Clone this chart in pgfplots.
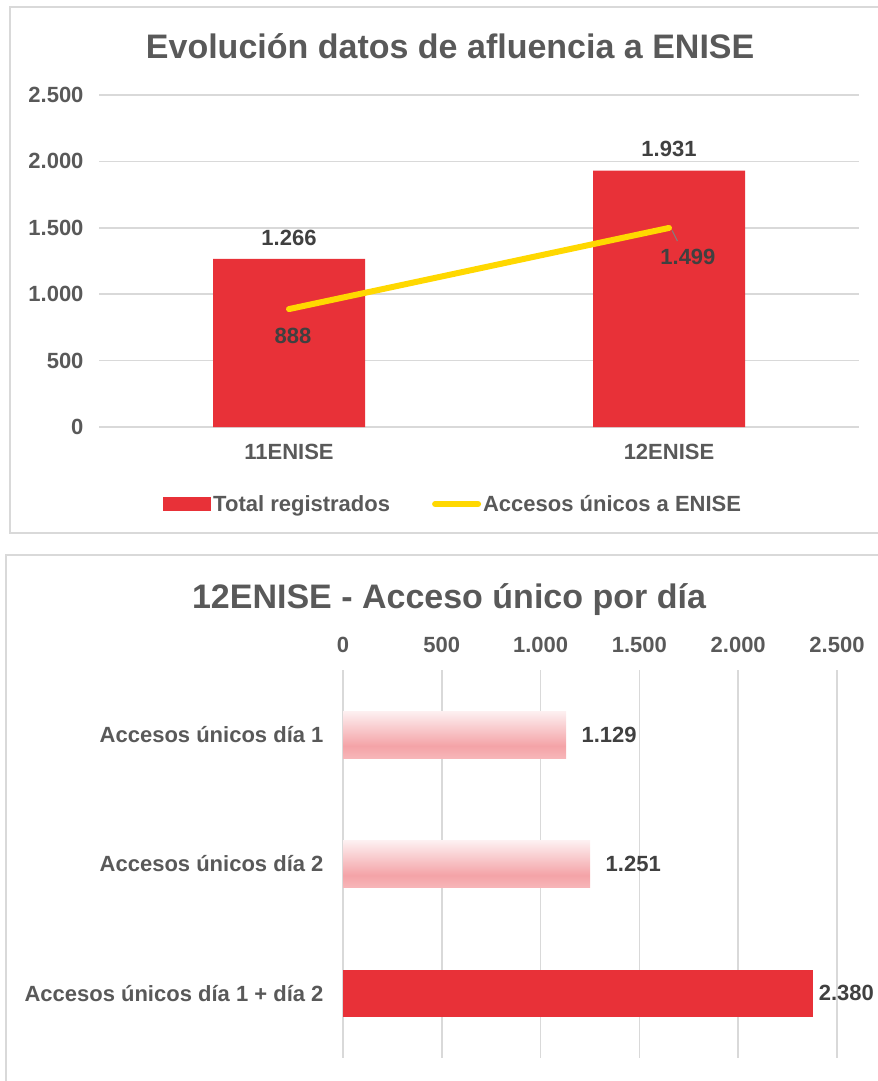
\documentclass[border=0pt]{standalone}
\usepackage{pgfplots}
\pgfplotsset{compat=1.18}
\usepackage{fontspec}
\setmainfont{Liberation Sans}
\definecolor{barred}{HTML}{E83138}
\definecolor{lineyellow}{HTML}{FFD800}
\definecolor{gridgray}{HTML}{D9D9D9}
\definecolor{labelgray}{HTML}{595959}
\definecolor{datagray}{HTML}{404040}
\definecolor{pinktop}{HTML}{FDF0F1}
\definecolor{pinkdark}{HTML}{F4A3A7}
\definecolor{pinkbottom}{HTML}{F7B6B9}
\pgfdeclareverticalshading{pinkbar}{100bp}{color(0bp)=(pinkbottom); color(25bp)=(pinkbottom); color(38bp)=(pinkdark); color(75bp)=(pinktop); color(100bp)=(pinktop)}
\newcommand\tickfont{\fontsize{22bp}{26bp}\selectfont\bfseries}
\newcommand\titlefont{\fontsize{34bp}{40bp}\selectfont\bfseries}
\begin{document}
\begin{tikzpicture}
\draw[gridgray, line width=2bp] (900bp,-7bp) -- (10bp,-7bp) -- (10bp,-533bp) -- (900bp,-533bp);
\draw[gridgray, line width=2bp] (900bp,-555bp) -- (6bp,-555bp) -- (6bp,-1100bp);
\begin{axis}[
  at={(99bp,-427bp)}, anchor=south west,
  scale only axis, width=760bp, height=332bp,
  xmin=-0.5, xmax=1.5, ymin=0, ymax=2500,
  xtick={0,1}, xticklabels={11ENISE,12ENISE},
  ytick={0,500,1000,1500,2000,2500},
  axis line style={draw=none},
  major tick length=0pt,
  ymajorgrids, grid style={gridgray, line width=1.5bp},
  tick label style={font=\tickfont, text=labelgray},
  yticklabel style={xshift=-12bp},
  xticklabel style={yshift=-14bp},
  /pgf/number format/1000 sep={.},
  /pgf/number format/assume math mode=true,
  title={Evolución datos de afluencia a ENISE},
  title style={font=\titlefont, text=labelgray, at={(0.462,1.093)}, anchor=base},
  legend style={at={(0.466,-0.232)}, anchor=center, draw=none, fill=none, legend columns=2, font=\tickfont, text=labelgray, /tikz/every even column/.append style={column sep=40bp}},
  legend cell align=left,
  clip=false,
]
\addplot[ybar, bar width=0.4, fill=barred, draw=none, bar shift=0pt,
  nodes near coords, every node near coord/.append style={font=\tickfont, text=datagray, yshift=10bp},
  legend image code/.code={\fill[barred] (0bp,-7bp) rectangle (48bp,7bp);}]
  coordinates {(0,1266) (1,1931)};
\addlegendentry{Total registrados}
\addplot[lineyellow, line width=6bp, line cap=round, mark=none,
  nodes near coords, visualization depends on={\thisrow{dx} \as \dx},
  visualization depends on={\thisrow{dy} \as \dy},
  every node near coord/.append style={font=\tickfont, text=datagray, anchor=center, xshift=\dx, yshift=\dy},
  legend image code/.code={\draw[lineyellow, line width=6bp, line cap=round] (3bp,0bp) -- (46bp,0bp);}]
  table {
x y dx dy
0 888 4 -27
1 1499 19 -29
};
\addlegendentry{Accesos únicos a ENISE}
\draw[gray, line width=1bp] (axis cs:1.008,1480) -- (axis cs:1.022,1400);
\end{axis}
\begin{axis}[
  at={(343bp,-1058bp)}, anchor=south west,
  scale only axis, width=494bp, height=388bp,
  xmin=0, xmax=2500, ymin=-0.5, ymax=2.5, y dir=reverse,
  xtick={0,500,1000,1500,2000,2500},
  ytick={0,1,2},
  yticklabels={Accesos únicos día 1, Accesos únicos día 2, Accesos únicos día 1 + día 2},
  xticklabel pos=upper,
  axis line style={draw=none},
  major tick length=0pt,
  xmajorgrids, grid style={gridgray, line width=1.5bp},
  tick label style={font=\tickfont, text=labelgray},
  yticklabel style={xshift=-16bp},
  xticklabel style={yshift=14bp},
  /pgf/number format/1000 sep={.},
  /pgf/number format/assume math mode=true,
  title={12ENISE - Acceso único por día},
  title style={font=\titlefont, text=labelgray, at={(0.2146,1.144)}, anchor=base},
  clip=false,
]
\addplot[xbar, bar width=0.363, bar shift=0pt, draw=none, shade, shading=pinkbar,
  nodes near coords, every node near coord/.append style={font=\tickfont, text=datagray, anchor=west, xshift=12bp}]
  coordinates {(1129,0)};
\addplot[xbar, bar width=0.363, bar shift=0pt, draw=none, shade, shading=pinkbar,
  nodes near coords, every node near coord/.append style={font=\tickfont, text=datagray, anchor=west, xshift=12bp}]
  coordinates {(1251,1)};
\addplot[xbar, bar width=0.363, bar shift=0pt, draw=none, fill=barred,
  nodes near coords, every node near coord/.append style={font=\tickfont, text=datagray, anchor=west, xshift=2bp}]
  coordinates {(2380,2)};
\end{axis}
\pgfresetboundingbox
\path[use as bounding box] (0bp,0bp) rectangle (878bp,-1081bp);
\end{tikzpicture}
\end{document}
